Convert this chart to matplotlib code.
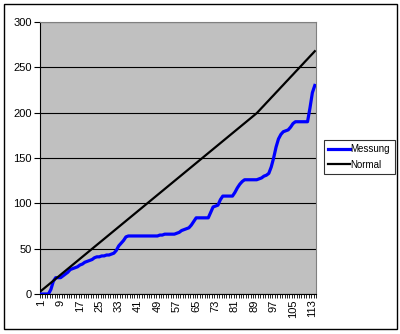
import matplotlib.pyplot as plt
from matplotlib.patches import Rectangle
import numpy as np

plt.rcParams['font.family'] = ['Liberation Sans', 'DejaVu Sans']

# values, one per category (1..114)
messung = [0, 0, 0, 0, 5, 14, 18, 18, 18, 20,
           22, 24, 27, 28, 29, 30, 32, 33, 35, 36,
           37, 38, 40, 41, 41, 42, 42, 43, 43, 44,
           45, 48, 53, 56, 59, 63, 64, 64, 64, 64,
           64, 64, 64, 64, 64, 64, 64, 64, 64, 65,
           65, 66, 66, 66, 66, 66, 67, 68, 70, 71,
           72, 73, 76, 80, 84, 84, 84, 84, 84, 84,
           90, 96, 97, 98, 104, 108, 108, 108, 108, 108,
           112, 117, 121, 124, 126, 126, 126, 126, 126, 126,
           127, 128, 130, 131, 133, 140, 150, 162, 171, 176,
           179, 180, 181, 184, 188, 190, 190, 190, 190, 190,
           190, 205, 222, 230]

normal = [3.6, 5.8, 8.0, 10.2, 12.4, 14.6, 16.8, 19.0, 21.2, 23.4,
          25.6, 27.8, 30.0, 32.2, 34.4, 36.6, 38.8, 41.0, 43.2, 45.4,
          47.6, 49.8, 52.0, 54.2, 56.4, 58.6, 60.8, 63.0, 65.2, 67.4,
          69.6, 71.8, 74.0, 76.2, 78.4, 80.6, 82.8, 85.0, 87.2, 89.4,
          91.6, 93.8, 96.0, 98.2, 100.4, 102.6, 104.8, 107.0, 109.2, 111.4,
          113.6, 115.8, 118.0, 120.2, 122.4, 124.6, 126.8, 129.0, 131.2, 133.4,
          135.6, 137.8, 140.0, 142.2, 144.4, 146.6, 148.8, 151.0, 153.2, 155.4,
          157.6, 159.8, 162.0, 164.2, 166.4, 168.6, 170.8, 173.0, 175.2, 177.4,
          179.6, 181.8, 184.0, 186.2, 188.4, 190.6, 192.8, 195.0, 197.2, 199.4,
          202.2, 205.1, 207.9, 210.8, 213.6, 216.5, 219.3, 222.2, 225.0, 227.9,
          230.7, 233.6, 236.4, 239.3, 242.1, 245.0, 247.8, 250.7, 253.5, 256.4,
          259.2, 262.1, 264.9, 267.8]

cats = np.arange(1, len(normal) + 1)
label_cats = list(range(1, 114, 8))

fig = plt.figure(figsize=(4.0, 3.34), dpi=100)
fig.patches.append(Rectangle((4/400, 1-329/334), 393/400, 325/334, transform=fig.transFigure,
                             fill=False, edgecolor='black', linewidth=1.0))

ax = fig.add_axes([40/400, 1-294/334, 276/400, 272/334])
ax.set_facecolor('#c0c0c0')

ax.plot(cats, messung, color='#0000ff', linewidth=2.3, label='Messung', zorder=3)
ax.plot(cats, normal, color='black', linewidth=1.6, label='Normal', zorder=3)

ax.set_xlim(0.5, len(cats) + 0.5)
ax.set_ylim(0, 300)
ax.set_yticks(range(0, 301, 50))
ax.yaxis.grid(True, color='black', linewidth=0.8)
ax.set_axisbelow(True)

ax.set_xticks(label_cats)
ax.set_xticklabels([str(c) for c in label_cats], rotation=90)
ax.set_xticks(np.arange(0.5, len(cats) + 1, 1), minor=True)
ax.tick_params(axis='x', which='major', length=0, pad=4, labelsize=8)
ax.tick_params(axis='x', which='minor', length=3, width=0.6, direction='out')
ax.tick_params(axis='y', length=4, width=0.8, labelsize=8, pad=2)

for s in ['top', 'right']:
    ax.spines[s].set_color('#808080')
    ax.spines[s].set_linewidth(0.8)
for s in ['left', 'bottom']:
    ax.spines[s].set_color('black')
    ax.spines[s].set_linewidth(0.8)

leg = fig.legend(loc='upper left', bbox_to_anchor=(324/400, 1-140/334), fontsize=7,
                 frameon=True, fancybox=False, handlelength=2.2, handletextpad=0.1,
                 borderpad=0.45, labelspacing=0.55, borderaxespad=0)
leg.get_frame().set_edgecolor('black')
leg.get_frame().set_linewidth(0.8)

fig.savefig('out.png', dpi=100)
